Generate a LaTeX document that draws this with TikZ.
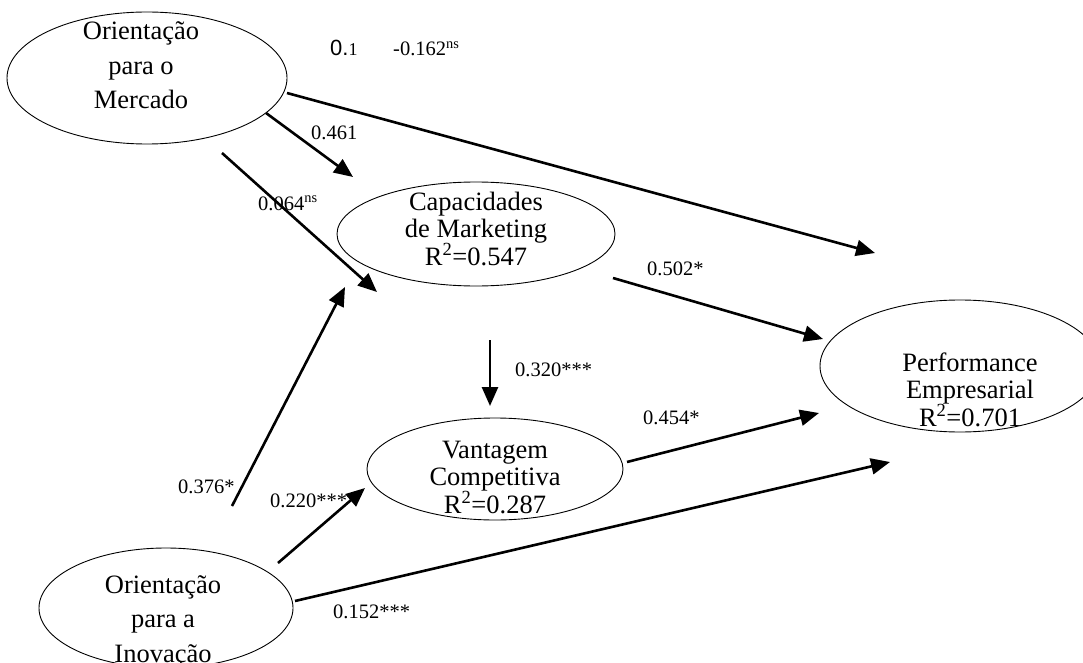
\documentclass[tikz,border=0pt]{standalone}
\usepackage{fontspec}
\setmainfont{Liberation Serif}
\newfontfamily\sansf{Liberation Sans}
\usetikzlibrary{shapes.geometric,arrows.meta}
\begin{document}
\begin{tikzpicture}[x=1pt,y=-1pt,
 ell/.style={draw, ellipse, line width=0.9pt, inner sep=0pt},
 arr/.style={line width=2.6pt, -{Triangle[length=19pt,width=16pt]}},
 lbl/.style={font=\fontsize{20.5}{24}\selectfont, anchor=base west, inner sep=0pt},
 txt/.style={font=\fontsize{26.5}{27.5}\selectfont, align=center, inner sep=0pt, anchor=base},
 txtw/.style={txt, font=\fontsize{26.5}{34.5}\selectfont}
]
\useasboundingbox (0,0) rectangle (1083,663);
\clip (0,0) rectangle (1083,663);

% ellipses
\node[ell, minimum width=280pt, minimum height=132pt] (om) at (147,78) {};
\node[ell, minimum width=278pt, minimum height=104pt] (cm) at (476,234) {};
\node[ell, minimum width=256pt, minimum height=102pt] (vc) at (495,469) {};
\node[ell, minimum width=280pt, minimum height=132pt] (pe) at (960,366) {};
\node[ell, minimum width=254pt, minimum height=120pt] (oi) at (166,608) {};

% texts (base = baseline of last line)
\node[txtw] (omt) at (141,109) {Orientação\\para o\\Mercado};
\node[txt] (cmt) at (476,265) {Capacidades\\de Marketing\\R\textsuperscript{2}=0.547};
\node[txt] (vct) at (495,513) {Vantagem\\Competitiva\\R\textsuperscript{2}=0.287};
\node[txt] (pet) at (970,426) {Performance\\Empresarial\\R\textsuperscript{2}=0.701};
\node[txtw] (oit) at (163,662) {Orientação\\para a\\Inovação};

% arrow end points
\coordinate (a1s) at (287,93);  \coordinate (a1e) at (875,253);
\coordinate (a2s) at (266,113); \coordinate (a2e) at (353,177);
\coordinate (a3s) at (222,153); \coordinate (a3e) at (377,292);
\coordinate (a4s) at (232,506); \coordinate (a4e) at (345,287);
\coordinate (a5s) at (278,563); \coordinate (a5e) at (365,488);
\coordinate (a6s) at (295,601); \coordinate (a6e) at (890,462);
\coordinate (a7s) at (613,278); \coordinate (a7e) at (823,339);
\coordinate (a8s) at (627,462); \coordinate (a8e) at (819,413);
\coordinate (a9s) at (490,340); \coordinate (a9e) at (490,406);

\draw[arr] (a1s) -- (a1e);
\draw[arr] (a2s) -- (a2e);
\draw[arr] (a3s) -- (a3e);
\draw[arr] (a4s) -- (a4e);
\draw[arr] (a5s) -- (a5e);
\draw[arr] (a6s) -- (a6e);
\draw[arr] (a7s) -- (a7e);
\draw[arr] (a8s) -- (a8e);
\draw[arr] (a9s) -- (a9e);

% labels
\node[lbl] (l1) at (330,56) {{\sansf\fontsize{22}{24}\selectfont 0.}{\fontsize{18}{20}\selectfont 1}};
\node[lbl] (l2) at (393,56) {-0.162\textsuperscript{ns}};
\node[lbl] (l3) at (311,140) {0.461};
\node[lbl] (l4) at (258,210) {0.064\textsuperscript{ns}};
\node[lbl] (l5) at (647,275) {0.502*};
\node[lbl] (l6) at (515,376) {0.320***};
\node[lbl] (l7) at (643,424) {0.454*};
\node[lbl] (l8) at (178,493) {0.376*};
\node[lbl] (l9) at (270,507) {0.220***};
\node[lbl] (l10) at (333,618) {0.152***};
\end{tikzpicture}
\end{document}
